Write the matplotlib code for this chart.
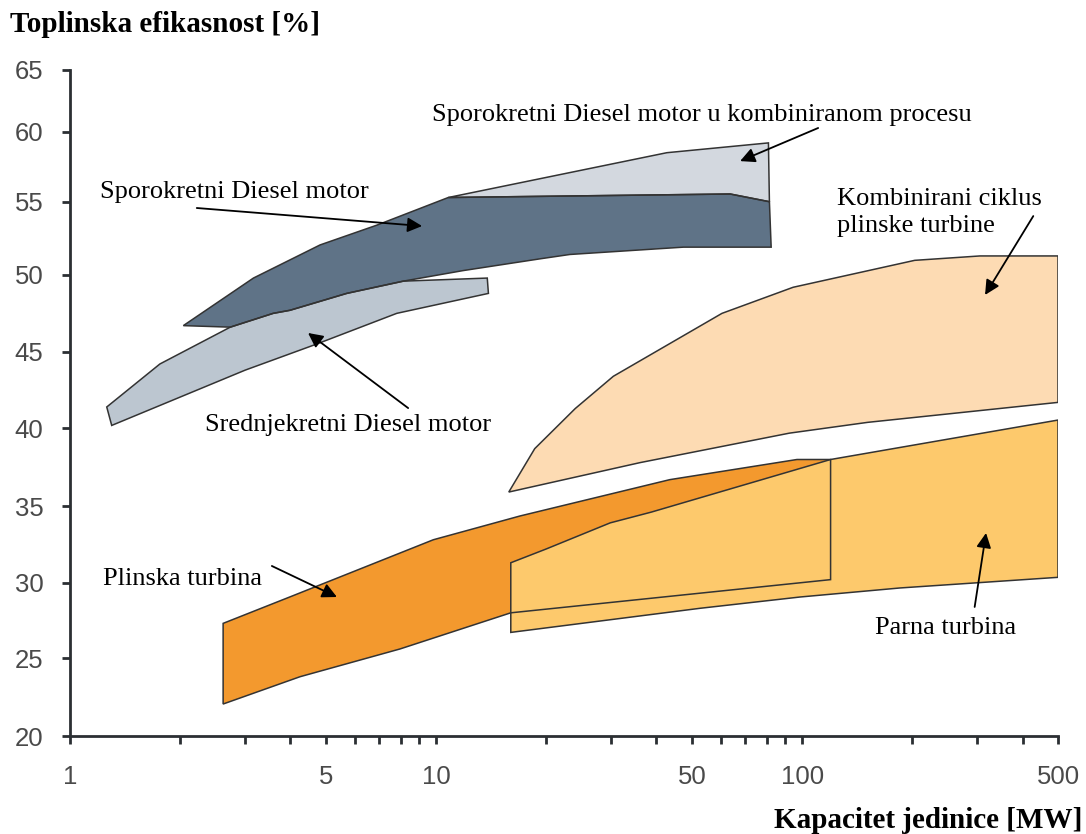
import numpy as np
import matplotlib
matplotlib.use('Agg')
from matplotlib import pyplot as plt

# 数据: 各类机组的效率区域 (多边形顶点, x = 机组容量 MW, y = 效率 %)
sred_x = [1.26, 1.76, 2.74, 3.59, 3.99, 5.70, 8.14, 13.8, 13.9, 7.81, 4.72, 3.01, 1.30]
sred_y = [41.4, 44.2, 46.6, 47.5, 47.7, 48.8, 49.6, 49.8, 48.8, 47.5, 45.5, 43.8, 40.2]

spor_x = [2.04, 3.17, 4.82, 6.89, 10.8, 63.6, 81.4, 82.3, 47.4, 23.2, 19.2, 11.85, 8.14, 5.70, 3.99, 3.59, 2.74]
spor_y = [46.7, 49.8, 52.05, 53.4, 55.3, 55.55, 55.0, 51.9, 51.9, 51.4, 51.1, 50.3, 49.6, 48.8, 47.7, 47.5, 46.6]

komb_x = [10.8, 42.7, 80.9, 81.4, 63.6]
komb_y = [55.3, 58.5, 59.2, 55.0, 55.55]

ccgt_x = [15.8, 18.6, 24.0, 30.5, 60.4, 94.5, 203, 306, 500, 500, 151, 92.3, 36.1]
ccgt_y = [35.9, 38.7, 41.3, 43.4, 47.5, 49.2, 51.0, 51.3, 51.3, 41.7, 40.4, 39.7, 37.8]

plin_x = [2.62, 4.03, 9.83, 16.96, 43.5, 96.8, 119.6, 119.6, 16.0, 7.97, 4.25, 2.62]
plin_y = [27.3, 29.1, 32.8, 34.35, 36.7, 38.0, 38.0, 30.2, 28.0, 25.6, 23.8, 22.05]

parna_x = [16.0, 16.0, 20.0, 29.9, 38.7, 119.6, 500, 500, 185, 98.7, 52.6]
parna_y = [26.7, 31.3, 32.2, 33.9, 34.6, 38.0, 40.55, 30.35, 29.65, 29.05, 28.3]

# 原图的纵轴刻度间距并不均匀, 用分段线性刻度还原
tick_vals = [20, 25, 30, 35, 40, 45, 50, 55, 60, 65]
tick_pos = [0, 78, 153.3, 230, 307.5, 384.3, 461, 534.3, 604.3, 666]
ext_vals = np.r_[-1000, tick_vals, 1000]
ext_pos = np.r_[-1020 * 15.6, tick_pos, 666 + 935 * 12.34]


def fwd(y):
    return np.interp(y, ext_vals, ext_pos)


def inv(p):
    return np.interp(p, ext_pos, ext_vals)


serif = 'Liberation Serif'
sans = 'Liberation Sans'
edge = '#333333'

fig = plt.figure(figsize=(10.86, 8.34), dpi=100)
ax = fig.add_axes([70 / 1086, 98 / 834, 988 / 1086, 666 / 834])
ax.set_xscale('log')
ax.set_yscale('function', functions=(fwd, inv))

regions = [
    (sred_x, sred_y, '#bcc6d0'),
    (spor_x, spor_y, '#5f7387'),
    (komb_x, komb_y, '#d3d8df'),
    (ccgt_x, ccgt_y, '#fddbb3'),
    (plin_x, plin_y, '#f3992e'),
    (parna_x, parna_y, '#fdc96c'),
]
# 先填充, 再统一画边框 (橙色区域的边线在黄色区域上仍可见)
for xs, ys, c in regions:
    ax.fill(xs, ys, facecolor=c, edgecolor='none', zorder=1)
for xs, ys, c in regions:
    ax.fill(xs, ys, facecolor='none', edgecolor=edge, lw=1.1, zorder=2)

ax.set_xlim(1, 500)
ax.set_ylim(20, 65)

# 坐标轴样式
for s in ['top', 'right']:
    ax.spines[s].set_visible(False)
for s in ['left', 'bottom']:
    ax.spines[s].set_linewidth(2)
    ax.spines[s].set_color('#2b2f33')

xt = [1, 2, 3, 4, 5, 6, 7, 8, 9, 10, 20, 30, 40, 50, 60, 70, 80, 90, 100, 200, 300, 400, 500]
xl = [str(v) if v in (1, 5, 10, 50, 100, 500) else '' for v in xt]
ax.set_xticks(xt, xl)
ax.minorticks_off()
ax.set_yticks(tick_vals)
ax.tick_params(direction='out', length=6, width=2, color='#2b2f33', labelsize=18.5,
               labelcolor='#4a4a4a', pad=13)
ax.tick_params(axis='x', pad=15)
for lab in ax.get_xticklabels() + ax.get_yticklabels():
    lab.set_family(sans)

# 标注
arrow = dict(arrowstyle='-|>', color='black', lw=1.3, mutation_scale=22, shrinkA=0, shrinkB=0)
tsize = 19
ax.text(9.75, 61.35, 'Sporokretni Diesel motor u kombiniranom procesu', family=serif,
        fontsize=tsize, va='center', ha='left')
ax.annotate('', xy=(67.7, 57.9), xytext=(110.6, 60.3), arrowprops=arrow)

ax.text(1.21, 55.7, 'Sporokretni Diesel motor', family=serif, fontsize=tsize, va='center', ha='left')
ax.annotate('', xy=(9.16, 53.34), xytext=(2.22, 54.57), arrowprops=arrow)

ax.text(2.34, 40.23, 'Srednjekretni Diesel motor', family=serif, fontsize=tsize, va='center', ha='left')
ax.annotate('', xy=(4.47, 46.22), xytext=(8.39, 41.33), arrowprops=arrow)

ax.text(124.6, 54.26, 'Kombinirani ciklus\nplinske turbine', family=serif, fontsize=tsize,
        va='center', ha='left', linespacing=1.25)
ax.annotate('', xy=(316, 48.7), xytext=(428, 54.02), arrowprops=arrow)

ax.text(1.23, 30.24, 'Plinska turbina', family=serif, fontsize=tsize, va='center', ha='left')
ax.annotate('', xy=(5.36, 29.05), xytext=(3.56, 31.09), arrowprops=arrow)

ax.text(158, 26.99, 'Parna turbina', family=serif, fontsize=tsize, va='center', ha='left')
ax.annotate('', xy=(318, 33.24), xytext=(296, 28.39), arrowprops=arrow)

# 轴标题
fig.text(10 / 1086, 1 - 25 / 834, 'Toplinska efikasnost [%]', family=serif, fontweight='bold',
         fontsize=21, va='center', ha='left')
fig.text(1082 / 1086, 1 - 820 / 834, 'Kapacitet jedinice [MW]', family=serif, fontweight='bold',
         fontsize=21, va='center', ha='right')

fig.savefig('out.png', dpi=100)
